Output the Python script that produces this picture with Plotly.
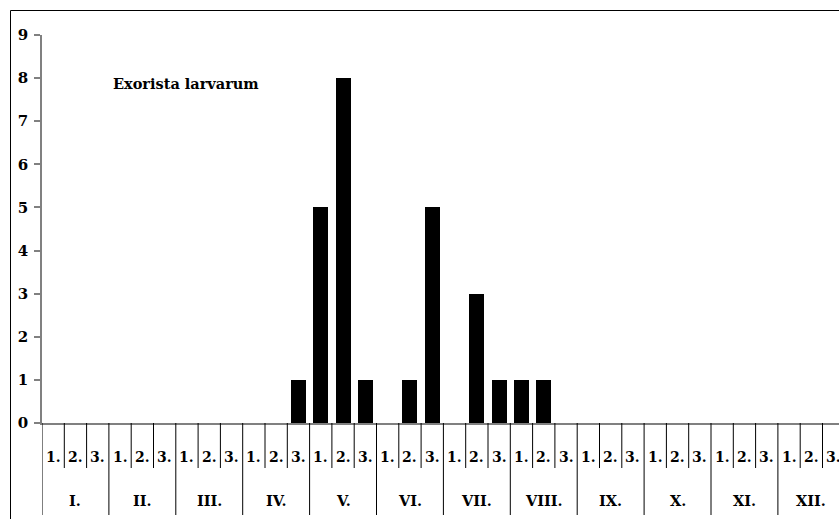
import plotly.graph_objects as go

months = ["I.", "II.", "III.", "IV.", "V.", "VI.", "VII.", "VIII.", "IX.", "X.", "XI.", "XII."]
thirds = ["1.", "2.", "3."]
values = [0, 0, 0,  0, 0, 0,  0, 0, 0,  0, 0, 1,
          5, 8, 1,  0, 1, 5,  0, 3, 1,  1, 1, 0,
          0, 0, 0,  0, 0, 0,  0, 0, 0,  0, 0, 0]
y_ticks = list(range(0, 10))
title_text = "Exorista larvarum"

W, H = 839, 519
AX_X, TOP_Y, ZERO_Y = 42, 35, 423  # pixel positions
ML = AX_X
MT = TOP_Y
MB = H - ZERO_Y
MR = 0
PW = W - ML - MR
PH = H - MT - MB
CAT_W = 22.3
n = len(values)
x_end = -0.5 + PW / CAT_W

def py(pix_y):
    return (ZERO_Y - pix_y) / PH

def px(pix_x):
    return (pix_x - AX_X) / PW

FONT = "DejaVu Serif"

fig = go.Figure()
fig.add_trace(go.Bar(
    x=list(range(n)), y=values, width=0.67,
    marker=dict(color="black", line=dict(width=0)),
    showlegend=False, hoverinfo="skip",
))

shapes = []
annotations = []
for b in range(0, n + 1):
    xb = b - 0.5
    long = (b % 3 == 0)
    shapes.append(dict(type="line", xref="x", yref="paper",
                       x0=xb, x1=xb, y0=0, y1=py(515 if long else 468),
                       line=dict(color="black", width=1)))
for i in range(n):
    annotations.append(dict(x=i, y=py(457), xref="x", yref="paper",
                            text=thirds[i % 3], showarrow=False,
                            font=dict(family=FONT, size=14, color="black", weight="bold"),
                            xanchor="center", yanchor="middle"))
for m, name in enumerate(months):
    annotations.append(dict(x=3 * m + 1, y=py(500), xref="x", yref="paper",
                            text=name, showarrow=False,
                            font=dict(family=FONT, size=14.5, color="black", weight="bold"),
                            xanchor="center", yanchor="middle"))
annotations.append(dict(x=px(111), y=py(83), xref="paper", yref="paper",
                        text=title_text, showarrow=False,
                        font=dict(family=FONT, size=14.5, color="black", weight="bold"),
                        xanchor="left", yanchor="middle"))
shapes.append(dict(type="rect", xref="paper", yref="paper",
                   x0=px(10.5), x1=px(W + 20), y0=py(H + 20), y1=py(10.5),
                   line=dict(color="black", width=1), layer="below"))

fig.update_layout(
    width=W, height=H,
    margin=dict(l=ML, r=MR, t=MT, b=MB, pad=0),
    plot_bgcolor="white", paper_bgcolor="white",
    bargap=0,
    shapes=shapes, annotations=annotations,
    xaxis=dict(range=[-0.5, x_end], showline=True, linecolor="#808080", linewidth=1.5,
               showticklabels=False, ticks="", showgrid=False, zeroline=False,
               fixedrange=True),
    yaxis=dict(range=[0, 9], tickvals=y_ticks, showline=True, linecolor="#808080",
               linewidth=1.5, ticks="outside", ticklen=6, tickcolor="#808080", tickwidth=1.5,
               showgrid=False, zeroline=False, ticklabelstandoff=3,
               tickfont=dict(family=FONT, size=15, color="black", weight="bold"),
               fixedrange=True),
)

fig.write_html(
    "out.html",
    config={"displayModeBar": False},
    post_script="document.body.style.margin='0';document.body.style.overflow='hidden';",
)
